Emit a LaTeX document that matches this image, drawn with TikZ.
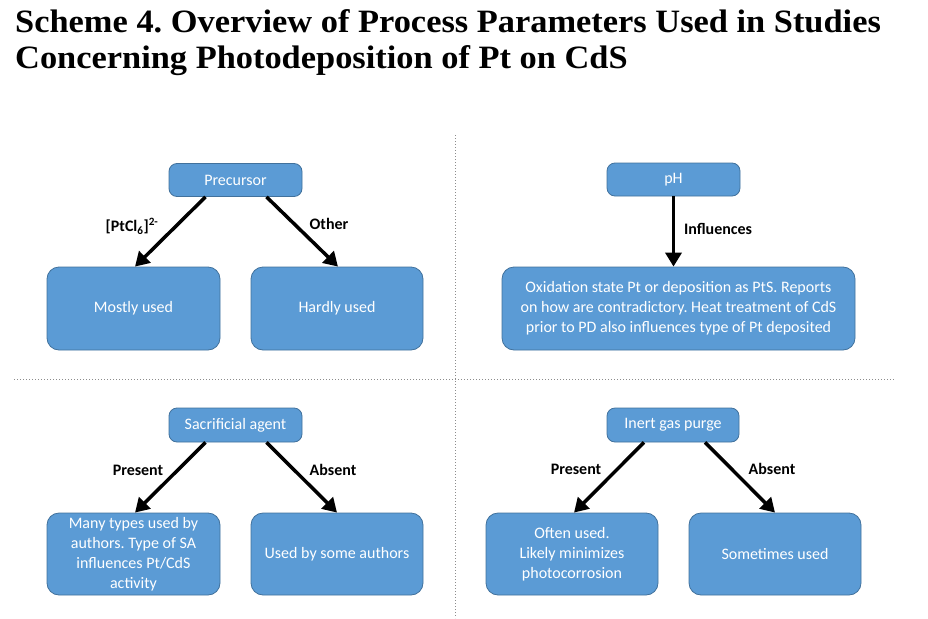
\documentclass[tikz,border=0pt]{standalone}
\usepackage{fontspec}
\setmainfont{Liberation Serif}
\setsansfont{Carlito}
\newfontfamily\titlefont[FakeStretch=1.055]{Liberation Serif}
\usetikzlibrary{arrows.meta}
\definecolor{boxblue}{HTML}{5B9BD5}
\definecolor{boxline}{HTML}{41719C}
\tikzstyle{box} = [rectangle, draw=boxline, line width=0.8pt, fill=boxblue, rounded corners=8pt, text=white, align=center, inner sep=0pt, font=\sffamily\fontsize{16}{20}\selectfont]
\tikzstyle{arrow} = [line width=3.5pt, -{Triangle[length=14pt,width=16pt]}]
\tikzstyle{lbl} = [inner sep=0pt, font=\sffamily\bfseries\fontsize{16}{18}\selectfont]
\tikzstyle{divider} = [black!45, dotted, line width=1pt]

\begin{document}
\frenchspacing
\begin{tikzpicture}[x=1pt,y=-1pt]
                        \useasboundingbox (0,0) rectangle (928,618);
                        \node[anchor=base west, inner sep=0pt, font=\titlefont\bfseries\fontsize{32.6}{35}\selectfont]
                            (title1) at (15,33) {Scheme 4. Overview of Process Parameters Used in Studies};
                        \node[anchor=base west, inner sep=0pt, font=\titlefont\bfseries\fontsize{32.6}{35}\selectfont]
                            (title2) at (15,68) {Concerning Photodeposition of Pt on CdS};
                        \draw[divider] (455,135) -- (455,618);
                        \draw[divider] (14,379) -- (894,379);
                        \node[box, minimum width=133pt, minimum height=33pt]
                            (precursor) at (235.5,180) {Precursor};
                        \node[box, minimum width=173pt, minimum height=83pt, rounded corners=12pt]
                            (mostly) at (133.5,308.5) {Mostly used};
                        \node[box, minimum width=172pt, minimum height=83pt, rounded corners=12pt]
                            (hardly) at (337,308.5) {Hardly used};
                        \draw[arrow] ([xshift=-30pt]precursor.south) -- ([xshift=1.5pt]mostly.north);
                        \draw[arrow] ([xshift=31pt]precursor.south) -- ([xshift=1pt]hardly.north);
                        \node[lbl] (chloro) at (132,226) {[PtCl\textsubscript{6}]\textsuperscript{2-}};
                        \node[lbl] (other) at (329,224) {Other};
                        \node[box, minimum width=133pt, minimum height=33pt]
                            (ph) at (673.5,179.5) {pH};
                        \node[box, minimum width=353pt, minimum height=83pt, rounded corners=12pt]
                            (oxstate) at (678.5,308.5) {Oxidation state Pt or deposition as PtS. Reports\\on how are contradictory. Heat treatment of CdS\\prior to PD also influences type of Pt deposited};
                        \draw[arrow] (ph.south) -- (oxstate.north -| ph.south);
                        \node[lbl] (influences) at (718,229) {Influences};
                        \node[box, minimum width=133pt, minimum height=34pt]
                            (sacrificial) at (235.5,425) {Sacrificial agent};
                        \node[box, minimum width=173pt, minimum height=82pt, rounded corners=12pt]
                            (manytypes) at (133.5,554) {Many types used by\\authors. Type of SA\\influences Pt/CdS\\activity};
                        \node[box, minimum width=172pt, minimum height=82pt, rounded corners=12pt]
                            (someauthors) at (337,554) {Used by some authors};
                        \draw[arrow] ([xshift=-30pt]sacrificial.south) -- ([xshift=1.5pt]manytypes.north);
                        \draw[arrow] ([xshift=31pt]sacrificial.south) -- ([xshift=0pt]someauthors.north);
                        \node[lbl] (presentsa) at (138,470) {Present};
                        \node[lbl] (absentsa) at (333,470) {Absent};
                        \node[box, minimum width=132pt, minimum height=34pt]
                            (purge) at (673,425) {Inert gas purge};
                        \node[box, minimum width=172pt, minimum height=82pt, rounded corners=12pt]
                            (oftenused) at (572,554) {Often used.\\Likely minimizes\\photocorrosion};
                        \node[box, minimum width=172pt, minimum height=82pt, rounded corners=12pt]
                            (sometimes) at (775,554) {Sometimes used};
                        \draw[arrow] ([xshift=-29pt]purge.south) -- ([xshift=2pt]oftenused.north);
                        \draw[arrow] ([xshift=32pt]purge.south) -- ([xshift=0pt]sometimes.north);
                        \node[lbl] (presentgas) at (576,469) {Present};
                        \node[lbl] (absentgas) at (772,469) {Absent};
                    \end{tikzpicture}
\end{document}
